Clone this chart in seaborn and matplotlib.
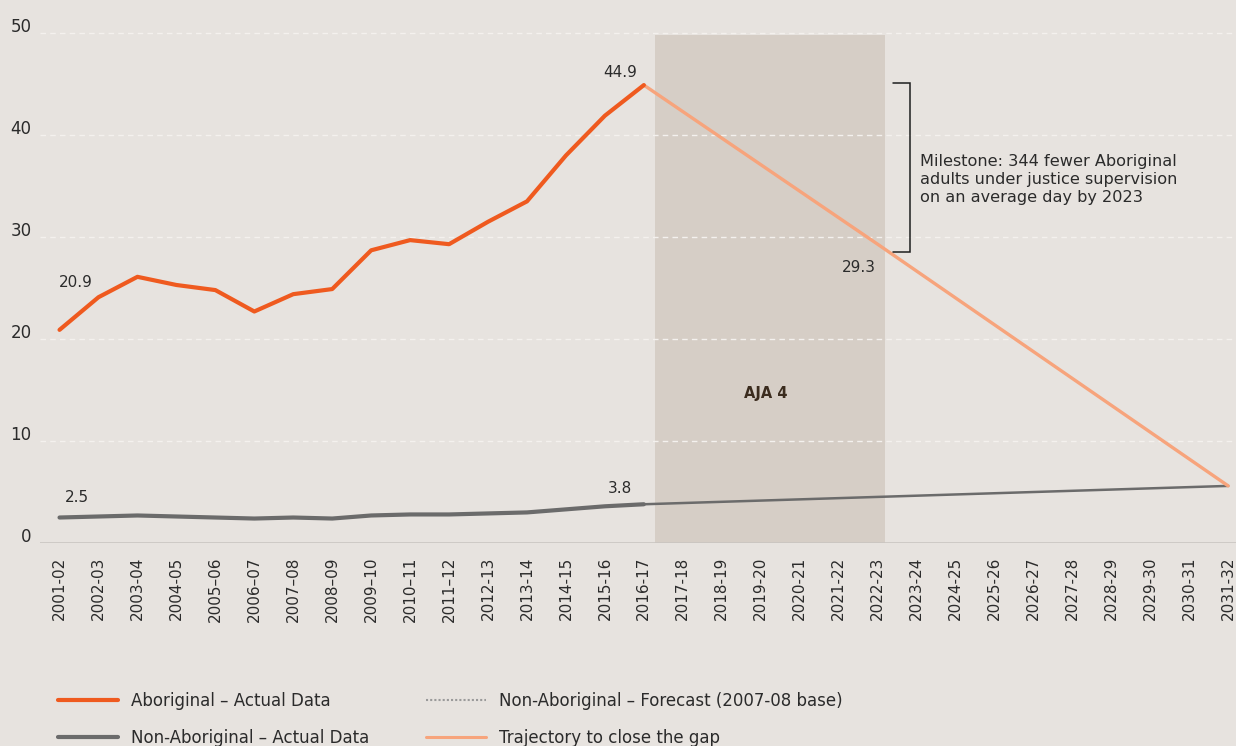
import matplotlib
matplotlib.use("Agg")
import matplotlib.pyplot as plt
import matplotlib.transforms as mtransforms
from matplotlib.lines import Line2D
import seaborn as sns
import pandas as pd

# Financial years on the x axis
periods = [
    "2001-02", "2002-03", "2003-04", "2004-05", "2005–06", "2006–07", "2007–08",
    "2008–09", "2009–10", "2010–11", "2011–12", "2012-13", "2013-14", "2014-15",
    "2015-16", "2016-17", "2017-18", "2018-19", "2019-20", "2020-21", "2021-22",
    "2022-23", "2023-24", "2024-25", "2025-26", "2026-27", "2027-28", "2028-29",
    "2029-30", "2030-31", "2031-32",
]

# Rate of adults under justice supervision (actual)
actual_periods = periods[:16]
aboriginal_actual = [20.9, 24.1, 26.1, 25.3, 24.8, 22.7, 24.4, 24.9, 28.7, 29.7,
                     29.3, 31.5, 33.5, 38.0, 41.9, 44.9]
non_aboriginal_actual = [2.5, 2.6, 2.7, 2.6, 2.5, 2.4, 2.5, 2.4, 2.7, 2.8,
                         2.8, 2.9, 3.0, 3.3, 3.6, 3.8]

# Non-Aboriginal forecast and trajectory to close the gap
forecast_periods = ["2016-17", "2031-32"]
non_aboriginal_forecast = [3.8, 5.6]
trajectory_periods = ["2016-17", "2022-23", "2031-32"]
trajectory_values = [44.9, 29.3, 5.6]

aja_period = ("2016-17", "2022-23")
y_ticks = [0, 10, 20, 30, 40, 50]

BG = "#e7e3df"
ORANGE = "#ef5a1f"
LIGHT_ORANGE = "#f7a47c"
GREY = "#6b6b6b"
TEXT = "#2b2b2b"

sns.set_theme(style="white")
plt.rcParams["font.family"] = ["DejaVu Sans"]

pos = {p: i for i, p in enumerate(periods)}


def frame(period_list, values, series):
    return pd.DataFrame({"x": [pos[p] for p in period_list], "y": values, "series": series})


df_ab = frame(actual_periods, aboriginal_actual, "ab")
df_nab = frame(actual_periods, non_aboriginal_actual, "nab")
df_fc = frame(forecast_periods, non_aboriginal_forecast, "fc")
df_tr = frame(trajectory_periods, trajectory_values, "tr")

fig = plt.figure(figsize=(12.36, 7.46), dpi=100, facecolor=BG)
ax = fig.add_axes([0.0324, 0.2721, 0.9676, 0.6863])
ax.set_facecolor(BG)

# AJA 4 period band
x0 = pos[aja_period[0]] + 0.28
x1 = pos[aja_period[1]] + 0.2
ax.fill_between([x0, x1], 0, 49.8, color="#d6cec6", lw=0, zorder=0.5)
ax.text((x0 + x1) / 2 - 0.1, 14.7, "AJA 4", ha="center", va="center",
        fontsize=10.5, fontweight="bold", color="#3b2c1e")

# gridlines
for t in y_ticks[1:]:
    ax.axhline(t, color="#f4f1ee", lw=1.0, ls=(0, (4, 3)), zorder=0.8)
ax.axhline(0, color="#c9c5c1", lw=1.2, zorder=0.8)

sns.lineplot(data=df_fc, x="x", y="y", ax=ax, color=GREY, lw=1.8, zorder=2)
sns.lineplot(data=df_tr, x="x", y="y", ax=ax, color=LIGHT_ORANGE, lw=2.4, zorder=3)
sns.lineplot(data=df_nab, x="x", y="y", ax=ax, color=GREY, lw=3.0, zorder=4)
sns.lineplot(data=df_ab, x="x", y="y", ax=ax, color=ORANGE, lw=3.0, zorder=5)

# value labels
labels = [
    (actual_periods[0], aboriginal_actual[0], 16, 47),
    (actual_periods[-1], aboriginal_actual[-1], -24, 13),
    (trajectory_periods[1], trajectory_values[1], -19, -23),
    (actual_periods[0], non_aboriginal_actual[0], 17, 20),
    (actual_periods[-1], non_aboriginal_actual[-1], -24, 16),
]
for p, v, dx, dy in labels:
    ax.annotate(f"{v:.1f}", (pos[p], v), xytext=(dx, dy), textcoords="offset pixels",
                ha="center", va="center", fontsize=11, color=TEXT)

# milestone bracket
bx, btick = 21.83, 21.4
ytop, ybot = 45.1, 28.5
ax.plot([btick, bx, bx, btick], [ytop, ytop, ybot, ybot], color="#1e1e1e", lw=1.1,
        solid_joinstyle="miter", zorder=6)
ax.text(22.09, 35.6,
        "Milestone: 344 fewer Aboriginal\nadults under justice supervision\non an average day by 2023",
        ha="left", va="center", fontsize=11.6, color=TEXT, linespacing=1.25)

ax.set_xlim(-0.5, 30.2)
ax.set_ylim(0, 50.2)
ax.set_xticks(range(len(periods)))
ax.set_xticklabels(periods, rotation=90, fontsize=11, color=TEXT)
ax.set_yticks(y_ticks)
ax.set_yticklabels([str(t) for t in y_ticks], fontsize=12, color=TEXT)
ax.tick_params(axis="both", length=0)
ax.tick_params(axis="x", pad=10)
ax.tick_params(axis="y", pad=6)
ax.set_xlabel("")
ax.set_ylabel("")
up = mtransforms.ScaledTranslation(0, 6 / 72, fig.dpi_scale_trans)
for lab in ax.get_yticklabels():
    lab.set_transform(lab.get_transform() + up)
for s in ax.spines.values():
    s.set_visible(False)

handles = [
    Line2D([], [], color=ORANGE, lw=3.0),
    Line2D([], [], color=GREY, lw=3.0),
    Line2D([], [], color="#9a9a9a", lw=1.5, ls=(0, (1, 1))),
    Line2D([], [], color=LIGHT_ORANGE, lw=2.2),
]
names = [
    "Aboriginal – Actual Data",
    "Non-Aboriginal – Actual Data",
    "Non-Aboriginal – Forecast (2007-08 base)",
    "Trajectory to close the gap",
]
fig.legend(handles, names, ncol=2, loc="upper left", bbox_to_anchor=(0.04, 0.084),
           frameon=False, fontsize=12, handlelength=3.6, handletextpad=0.8,
           columnspacing=3.4, labelspacing=1.15, borderpad=0, labelcolor=TEXT)

fig.savefig("out.png", dpi=100, facecolor=BG)
